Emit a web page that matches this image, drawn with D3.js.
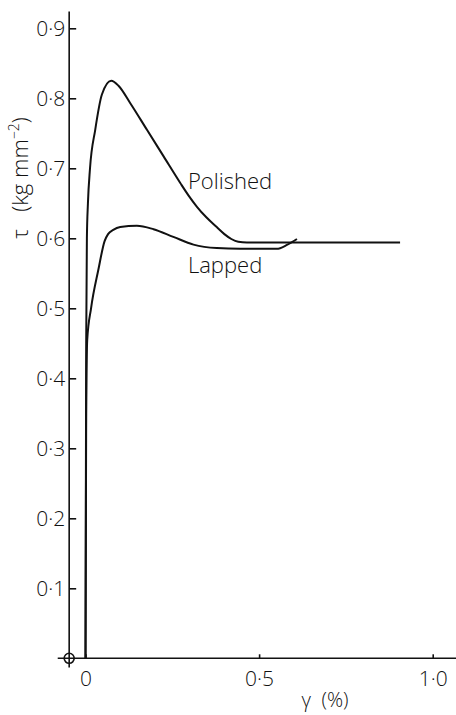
<!DOCTYPE html>
<html>
<head>
<meta charset="utf-8">
<script src="https://cdn.jsdelivr.net/npm/d3@7"></script>
<style>
  html, body { margin: 0; padding: 0; background: #fff; }
  svg { display: block; }
  text { font-family: "Open Sans", "DejaVu Sans", sans-serif; font-weight: 300; fill: #111; white-space: pre; }
</style>
</head>
<body>
<svg id="chart" width="456" height="715"></svg>
<script>
// ---- data ----
const polishedGamma = [0, 0.002, 0.004, 0.007, 0.013, 0.028, 0.047, 0.074, 0.095, 0.129, 0.177, 0.225, 0.273, 0.297, 0.321, 0.348, 0.378, 0.400, 0.420, 0.440, 0.465, 0.500, 0.700, 0.906];
const polishedTau   = [0, 0.45, 0.60, 0.65, 0.70, 0.755, 0.805, 0.825, 0.818, 0.793, 0.755, 0.717, 0.679, 0.661, 0.645, 0.630, 0.616, 0.606, 0.599, 0.595, 0.594, 0.594, 0.594, 0.594];

const lappedGamma = [0, 0.002, 0.005, 0.016, 0.037, 0.055, 0.065, 0.080, 0.100, 0.148, 0.196, 0.253, 0.311, 0.378, 0.445, 0.551, 0.580, 0.609];
const lappedTau   = [0, 0.35, 0.455, 0.50, 0.555, 0.596, 0.606, 0.612, 0.616, 0.618, 0.613, 0.602, 0.591, 0.586, 0.585, 0.585, 0.5905, 0.599];

const xTicks = [0, 0.5, 1.0];
const xTickLabels = ["0", "0·5", "1·0"];
const yTicks = [0.1, 0.2, 0.3, 0.4, 0.5, 0.6, 0.7, 0.8, 0.9];
const yTickLabels = ["0·1", "0·2", "0·3", "0·4", "0·5", "0·6", "0·7", "0·8", "0·9"];

const seriesNames = ["Polished", "Lapped"];
const xLabel = "γ  (%)";

// ---- scales ----
const svg = d3.select("#chart");
const x = d3.scaleLinear().domain([0, 1]).range([85.5, 432.7]);
const y = d3.scaleLinear().domain([0, 0.9]).range([658.3, 28.3]);

const ink = "#111";

// y axis (ticks pointing right/inward, labels left)
const yAxisX = x(-0.047);
const yAxis = d3.axisLeft(y)
  .tickValues(yTicks)
  .tickFormat((d, i) => yTickLabels[i])
  .tickSizeInner(-7)
  .tickSizeOuter(0)
  .tickPadding(4);
const gy = svg.append("g").attr("transform", `translate(${yAxisX},0)`).call(yAxis);
gy.select(".domain").remove();
gy.selectAll(".tick line").attr("stroke", ink).attr("stroke-width", 1.6);
gy.selectAll(".tick text").attr("font-size", 21).attr("font-family", null).attr("fill", ink);
svg.append("line")
  .attr("x1", yAxisX).attr("x2", yAxisX)
  .attr("y1", y(0.924)).attr("y2", y(-0.013))
  .attr("stroke", ink).attr("stroke-width", 1.6);

// x axis (ticks pointing up)
const xAxis = d3.axisBottom(x)
  .tickValues(xTicks)
  .tickFormat((d, i) => xTickLabels[i])
  .tickSizeInner(-4)
  .tickSizeOuter(0)
  .tickPadding(13);
const gx = svg.append("g").attr("transform", `translate(0,${y(0)})`).call(xAxis);
gx.select(".domain").remove();
gx.selectAll(".tick line").attr("stroke", ink).attr("stroke-width", 1.6);
gx.selectAll(".tick text").attr("font-size", 21).attr("font-family", null).attr("fill", ink);
svg.append("line")
  .attr("x1", x(-0.08)).attr("x2", x(1.1))
  .attr("y1", y(0)).attr("y2", y(0))
  .attr("stroke", ink).attr("stroke-width", 1.6);

// origin marker
svg.append("circle")
  .attr("cx", yAxisX).attr("cy", y(0)).attr("r", 5)
  .attr("fill", "none").attr("stroke", ink).attr("stroke-width", 1.6);

// axis titles
svg.append("text")
  .attr("x", (x(0.645) + x(0.735)) / 2).attr("y", 707)
  .attr("text-anchor", "middle").attr("font-size", 20)
  .text(xLabel);

const yt = svg.append("text")
  .attr("transform", `translate(28,178) rotate(-90)`)
  .attr("text-anchor", "middle").attr("font-size", 22);
yt.append("tspan").text("τ   (kg mm");
yt.append("tspan").attr("font-size", 14).attr("dy", -9).text("−2");
yt.append("tspan").attr("dy", 9).text(")");

// curves
const line = d3.line()
  .x(d => x(d[0])).y(d => y(d[1]))
  .curve(d3.curveMonotoneX);

const polished = polishedGamma.map((g, i) => [g, polishedTau[i]]);
const lapped = lappedGamma.map((g, i) => [g, lappedTau[i]]);

[polished, lapped].forEach(data => {
  svg.append("path")
    .attr("d", line(data))
    .attr("fill", "none").attr("stroke", ink)
    .attr("stroke-width", 2).attr("stroke-linejoin", "round");
});

// curve labels
svg.append("text").attr("x", x(0.295)).attr("y", y(0.67))
  .attr("font-size", 22).text(seriesNames[0]);
svg.append("text").attr("x", x(0.295)).attr("y", y(0.55))
  .attr("font-size", 22).text(seriesNames[1]);
</script>
</body>
</html>
